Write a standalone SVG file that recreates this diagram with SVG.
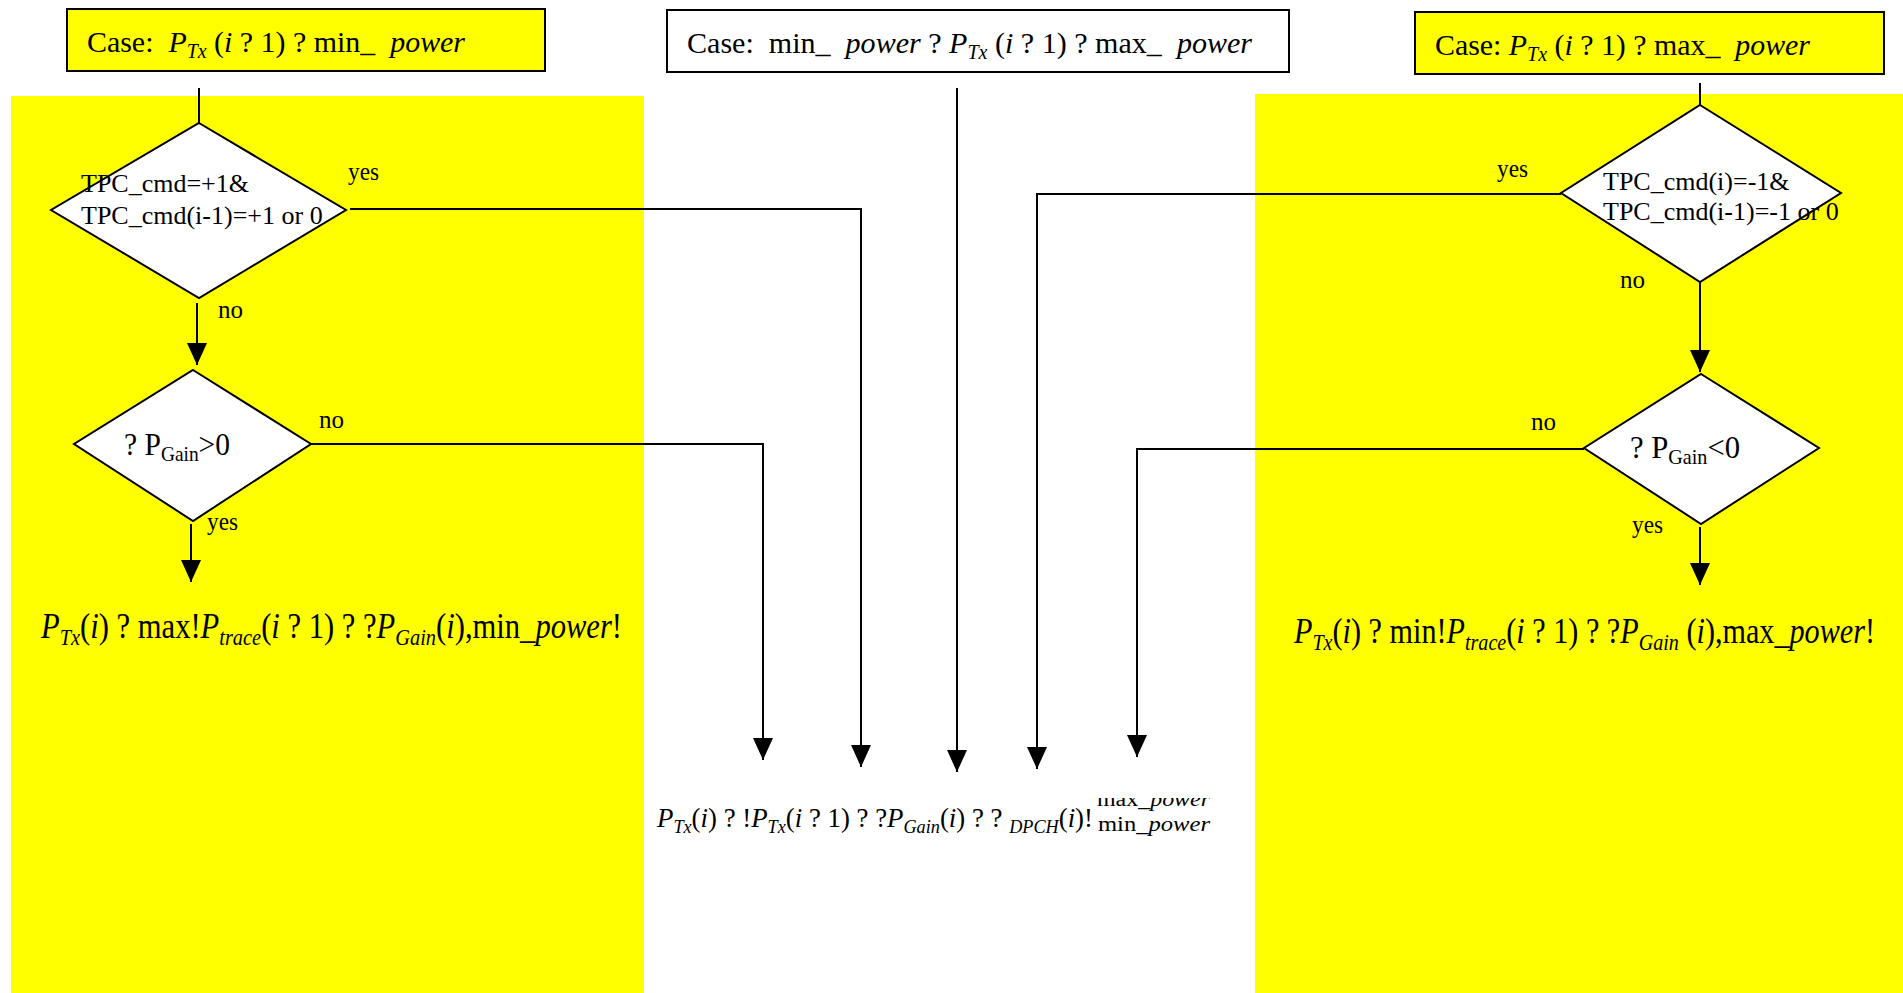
<svg xmlns="http://www.w3.org/2000/svg" width="1903" height="993" viewBox="0 0 1903 993">
<defs>
<marker id="arr" viewBox="0 0 22 20" refX="22" refY="10" markerWidth="22" markerHeight="20" orient="auto" markerUnits="userSpaceOnUse"><path d="M0,0 L22,10 L0,20 z" fill="#000"/></marker>
<clipPath id="clipSup"><rect x="1090" y="798" width="140" height="40"/></clipPath>
</defs>
<style>
text{font-family:"Liberation Serif","Times New Roman",serif;fill:#000}
.it{font-style:italic}
.box{stroke:#000;stroke-width:2}
.dia{fill:#fff;stroke:#000;stroke-width:2}
.con{fill:none;stroke:#000;stroke-width:2}
.lbl{font-size:25px}
.cs{font-size:30px}
.dt{font-size:26px}
.f{font-size:36px}
.fm{font-size:28px}
</style>
<g id="backgrounds">
<rect x="11" y="96" width="633" height="897" fill="#ffff00"/>
<rect x="1255" y="94" width="648" height="899" fill="#ffff00"/>
</g>
<g id="connectors">
<path class="con" d="M199,88 L199,123"/>
<path class="con" d="M350,209 L861,209 L861,767" marker-end="url(#arr)"/>
<path class="con" d="M197,303 L197,365" marker-end="url(#arr)"/>
<path class="con" d="M311,444 L763,444 L763,760" marker-end="url(#arr)"/>
<path class="con" d="M191,524 L191,582" marker-end="url(#arr)"/>
<path class="con" d="M957,88 L957,772" marker-end="url(#arr)"/>
<path class="con" d="M1700,83 L1700,105"/>
<path class="con" d="M1561,194 L1037,194 L1037,769" marker-end="url(#arr)"/>
<path class="con" d="M1700,282 L1700,372" marker-end="url(#arr)"/>
<path class="con" d="M1584,449 L1137,449 L1137,757" marker-end="url(#arr)"/>
<path class="con" d="M1700,527 L1700,585" marker-end="url(#arr)"/>
</g>
<g id="case-min">
<rect class="box" x="67" y="9" width="478" height="62" fill="#ffff00"/>
<text class="cs" x="87" y="52" textLength="378" lengthAdjust="spacingAndGlyphs" xml:space="preserve">Case:  <tspan class="it">P</tspan><tspan class="it" font-size="20" dy="6">Tx</tspan><tspan dy="-6"> (</tspan><tspan class="it">i</tspan> ? 1) ? min_  <tspan class="it">power</tspan></text>
</g>
<g id="case-mid">
<rect class="box" x="667" y="10" width="622" height="62" fill="#fff"/>
<text class="cs" x="687" y="53" textLength="565" lengthAdjust="spacingAndGlyphs" xml:space="preserve">Case:  min_  <tspan class="it">power</tspan> ? <tspan class="it">P</tspan><tspan class="it" font-size="20" dy="6">Tx</tspan><tspan dy="-6"> (</tspan><tspan class="it">i</tspan> ? 1) ? max_  <tspan class="it">power</tspan></text>
</g>
<g id="case-max">
<rect class="box" x="1415" y="12" width="469" height="62" fill="#ffff00"/>
<text class="cs" x="1435" y="55" textLength="375" lengthAdjust="spacingAndGlyphs" xml:space="preserve">Case: <tspan class="it">P</tspan><tspan class="it" font-size="20" dy="6">Tx</tspan><tspan dy="-6"> (</tspan><tspan class="it">i</tspan> ? 1) ? max_  <tspan class="it">power</tspan></text>
</g>
<g id="dec-tpc-up">
<polygon class="dia" points="199,123 346,210 199,298 51,210"/>
<text class="dt"><tspan x="81" y="192">TPC_cmd=+1&amp;</tspan><tspan x="81" y="224">TPC_cmd(i-1)=+1 or 0</tspan></text>
<text class="lbl" x="348" y="180" textLength="31" lengthAdjust="spacingAndGlyphs">yes</text>
<text class="lbl" x="218" y="318">no</text>
</g>
<g id="dec-gain-pos">
<polygon class="dia" points="193,370 311,444 193,521 74,444"/>
<text font-size="32" x="124" y="455" textLength="106" lengthAdjust="spacingAndGlyphs" xml:space="preserve">? P<tspan font-size="21" dy="6">Gain</tspan><tspan dy="-6">&gt;0</tspan></text>
<text class="lbl" x="319" y="428">no</text>
<text class="lbl" x="207" y="530" textLength="31" lengthAdjust="spacingAndGlyphs">yes</text>
</g>
<g id="res-max">
<text class="f" x="41" y="638" textLength="581" lengthAdjust="spacingAndGlyphs" xml:space="preserve"><tspan class="it">P</tspan><tspan class="it" font-size="24" dy="7">Tx</tspan><tspan dy="-7">(</tspan><tspan class="it">i</tspan>) ? max!<tspan class="it">P</tspan><tspan class="it" font-size="24" dy="7">trace</tspan><tspan dy="-7">(</tspan><tspan class="it">i</tspan> ? 1) ? ?<tspan class="it">P</tspan><tspan class="it" font-size="24" dy="7">Gain</tspan><tspan dy="-7">(</tspan><tspan class="it">i</tspan>),min_<tspan class="it">power</tspan>!</text>
</g>
<g id="dec-tpc-down">
<polygon class="dia" points="1700,105 1841,193 1700,282 1561,193"/>
<text class="dt"><tspan x="1603" y="190">TPC_cmd(i)=-1&amp;</tspan><tspan x="1603" y="220">TPC_cmd(i-1)=-1 or 0</tspan></text>
<text class="lbl" x="1497" y="177" textLength="31" lengthAdjust="spacingAndGlyphs">yes</text>
<text class="lbl" x="1620" y="288">no</text>
</g>
<g id="dec-gain-neg">
<polygon class="dia" points="1701,374 1819,448 1701,524 1584,448"/>
<text font-size="32" x="1630" y="458" textLength="110" lengthAdjust="spacingAndGlyphs" xml:space="preserve">? P<tspan font-size="21" dy="6">Gain</tspan><tspan dy="-6">&lt;0</tspan></text>
<text class="lbl" x="1531" y="430">no</text>
<text class="lbl" x="1632" y="533" textLength="31" lengthAdjust="spacingAndGlyphs">yes</text>
</g>
<g id="res-min">
<text class="f" x="1294" y="643" textLength="581" lengthAdjust="spacingAndGlyphs" xml:space="preserve"><tspan class="it">P</tspan><tspan class="it" font-size="24" dy="7">Tx</tspan><tspan dy="-7">(</tspan><tspan class="it">i</tspan>) ? min!<tspan class="it">P</tspan><tspan class="it" font-size="24" dy="7">trace</tspan><tspan dy="-7">(</tspan><tspan class="it">i</tspan> ? 1) ? ?<tspan class="it">P</tspan><tspan class="it" font-size="24" dy="7">Gain</tspan><tspan dy="-7"> (</tspan><tspan class="it">i</tspan>),max_<tspan class="it">power</tspan>!</text>
</g>
<g id="res-clamp">
<text class="fm" x="657" y="827" textLength="436" lengthAdjust="spacingAndGlyphs" xml:space="preserve"><tspan class="it">P</tspan><tspan class="it" font-size="19" dy="6">Tx</tspan><tspan dy="-6">(</tspan><tspan class="it">i</tspan>) ? !<tspan class="it">P</tspan><tspan class="it" font-size="19" dy="6">Tx</tspan><tspan dy="-6">(</tspan><tspan class="it">i</tspan> ? 1) ? ?<tspan class="it">P</tspan><tspan class="it" font-size="19" dy="6">Gain</tspan><tspan dy="-6">(</tspan><tspan class="it">i</tspan>) ? ? <tspan class="it" font-size="19" dy="6">DPCH</tspan><tspan dy="-6">(</tspan><tspan class="it">i</tspan>)!</text>
<text font-size="20" x="1097" y="806" textLength="113" lengthAdjust="spacingAndGlyphs" clip-path="url(#clipSup)">max_<tspan class="it">power</tspan></text>
<text font-size="20" x="1098" y="831" textLength="112" lengthAdjust="spacingAndGlyphs">min_<tspan class="it">power</tspan></text>
</g>
</svg>
